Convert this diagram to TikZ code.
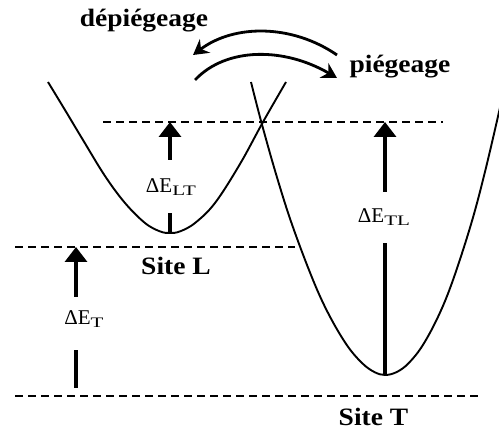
\documentclass[tikz,border=0pt]{standalone}
\usepackage{fontspec}
\setmainfont{Liberation Serif}
\usetikzlibrary{arrows.meta}
\newcommand\subsc[1]{\raisebox{-2.5pt}{\scalebox{1.45}[1]{\fontsize{14.5}{15}\selectfont #1}}}
\tikzset{
  curve/.style={line width=1.9pt, line join=round},
  level/.style={line width=1.3pt, dash pattern=on 8pt off 5pt},
  shaft/.style={line width=3.4pt},
  uparrow/.style={shaft, -{Triangle[width=22pt,length=15pt]}},
  swing/.style={line width=2.8pt, -{Stealth[width=17pt,length=15pt,inset=5pt]}},
  boldlabel/.style={font=\fontsize{25}{28}\selectfont\bfseries, xscale=1.1, inner sep=0pt, anchor=base, text depth=0pt},
  delta/.style={font=\fontsize{21}{23}\selectfont, inner sep=0pt, anchor=base}
}
\begin{document}
\begin{tikzpicture}[x=1pt,y=-1pt]
\useasboundingbox (0,0) rectangle (499,430);

% levels
\coordinate (t1) at (103,122); \coordinate (t2) at (443,122);
\coordinate (m1) at (15,247);  \coordinate (m2) at (295,247);
\coordinate (b1) at (15,396);  \coordinate (b2) at (480,396);
\draw[level] (t1) -- (t2);
\draw[level] (m1) -- (m2);
\draw[level] (b1) -- (b2);

% left well (site L)
\draw[curve] plot[smooth, tension=0.6] coordinates {(48,82) (65,110) (83,140) (105,176) (125,203) (145,223) (160,231.4) (170,233) (180,231.4) (195,223) (215,203) (240,164) (263,122) (286,82)};

% right well (site T)
\begin{scope}
\clip (0,0) rectangle (499,430);
\draw[curve] plot[smooth, tension=0.6] coordinates {(251,82) (261.3,122) (276.3,175) (292.2,225) (313,280) (329.1,315) (346.8,345) (362,363) (374.3,372) (385,375) (396.8,372) (408.8,363) (422.9,345) (438.9,315) (453,280) (470.8,225) (484.2,175) (499,112) (506.9,75)};
\end{scope}

% Delta E_LT
\coordinate (ltBot) at (170,233); \coordinate (ltLow) at (170,213);
\coordinate (ltUp) at (170,160);  \coordinate (ltTip) at (170,122);
\draw[shaft] (ltBot) -- (ltLow);
\draw[uparrow] (ltUp) -- (ltTip);
\node[delta] (dlt) at (171,193) {ΔE\subsc{LT}};

% Delta E_T
\coordinate (tBot) at (76,388); \coordinate (tLow) at (76,350);
\coordinate (tUp) at (76,297);  \coordinate (tTip) at (76,247);
\draw[shaft] (tBot) -- (tLow);
\draw[uparrow] (tUp) -- (tTip);
\node[delta] (dt) at (84,325) {ΔE\subsc{T}};

% Delta E_TL
\coordinate (tlBot) at (385,375); \coordinate (tlLow) at (385,243);
\coordinate (tlUp) at (385,192);  \coordinate (tlTip) at (385,122);
\draw[shaft] (tlBot) -- (tlLow);
\draw[uparrow] (tlUp) -- (tlTip);
\node[delta] (dtl) at (384,223) {ΔE\subsc{TL}};

% trapping / detrapping arrows
\coordinate (dA) at (337,55); \coordinate (dB) at (193,55);
\coordinate (pA) at (195,80); \coordinate (pB) at (337,78);
\draw[swing] (dA) .. controls (292,24) and (234,24) .. (dB);
\draw[swing] (pA) .. controls (226,47) and (284,47) .. (pB);

% labels
\node[boldlabel] (dep) at (144,27) {dépiégeage};
\node[boldlabel] (pie) at (400,73) {piégeage};
\node[boldlabel] (sl) at (176,275) {Site L};
\node[boldlabel] (st) at (373.5,426) {Site T};
\end{tikzpicture}
\end{document}
